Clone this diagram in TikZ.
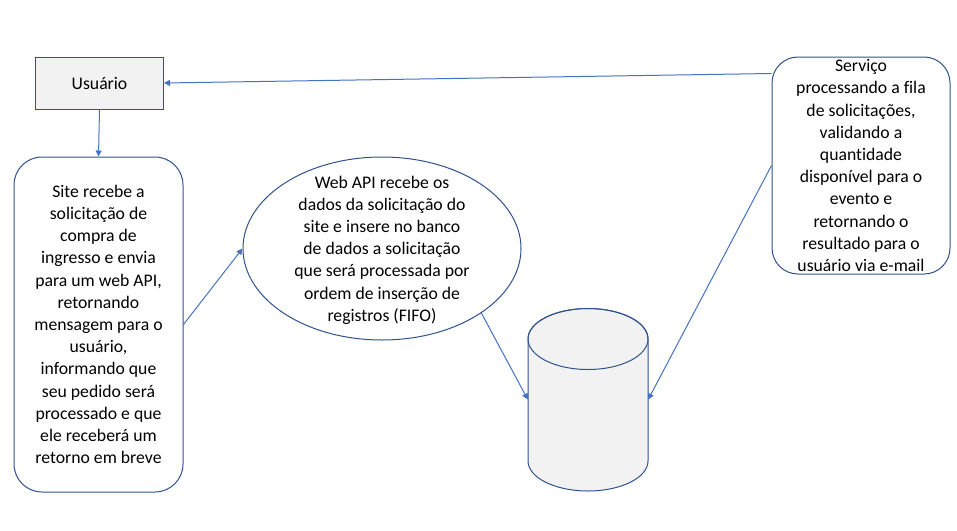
\documentclass[tikz,border=0pt]{standalone}
\usepackage{fontspec}
\setmainfont[Ligatures=NoCommon]{Carlito}
\usetikzlibrary{arrows.meta,shapes.geometric}
\definecolor{borda}{HTML}{2F528F}
\definecolor{seta}{HTML}{4472C4}
\definecolor{cinza}{HTML}{F2F2F2}
\tikzset{
  texto/.style={align=center, font=\fontsize{17.7}{22.2}\selectfont, inner sep=0},
  caixa/.style={draw=borda, line width=1pt, texto},
  fluxo/.style={draw=seta, line width=1pt, -{Triangle[length=6pt,width=6pt]}},
}
\begin{document}
\begin{tikzpicture}[x=1pt,y=-1pt]
\useasboundingbox (0,0) rectangle (957,530);
\node[caixa, fill=cinza, minimum width=128, minimum height=52] (usuario) at (99.5,83) {Usuário};
\node[caixa, rounded corners=28pt, minimum width=169, minimum height=335] (site) at (98.5,324.5)
  {Site recebe a\\solicitação de\\compra de\\ingresso e envia\\para um web API,\\retornando\\mensagem para o\\usuário,\\informando que\\seu pedido será\\processado e que\\ele receberá um\\retorno em breve};
\node[draw=borda, line width=1pt, ellipse, inner sep=0, minimum width=278, minimum height=183] (webapi) at (382,248.5) {};
\node[texto] (webapitexto) at (382,250) {Web API recebe os\\dados da solicitação do\\site e insere no banco\\de dados a solicitação\\que será processada por\\ordem de inserção de\\registros (FIFO)};
% banco de dados
\node[inner sep=0, minimum width=120, minimum height=183] (banco) at (588,399.5) {};
\filldraw[draw=borda, fill=cinza, line width=1pt] (528,339) -- (528,461) arc[start angle=180, end angle=0, x radius=60, y radius=30]
  -- (648,339) arc[start angle=0, end angle=-180, x radius=60, y radius=30.5] -- cycle;
\draw[borda, line width=1pt] (588,339) ellipse[x radius=60, y radius=30.5];
\node[caixa, rounded corners=26pt, minimum width=178, minimum height=217] (servico) at (861,165.5)
  {Serviço\\processando a fila\\de solicitações,\\validando a\\quantidade\\disponível para o\\evento e\\retornando o\\resultado para o\\usuário via e-mail};
% conexoes
\draw[fluxo] (usuario.south) -- (site.north);
\draw[fluxo] (site.east) -- (webapi.west);
\draw[fluxo] (webapi.-33.6) -- (banco.west);
\draw[fluxo] (servico.west) -- (banco.east);
\draw[fluxo] ([yshift=-17pt]servico.north west) -- (usuario.east);
\end{tikzpicture}
\end{document}
